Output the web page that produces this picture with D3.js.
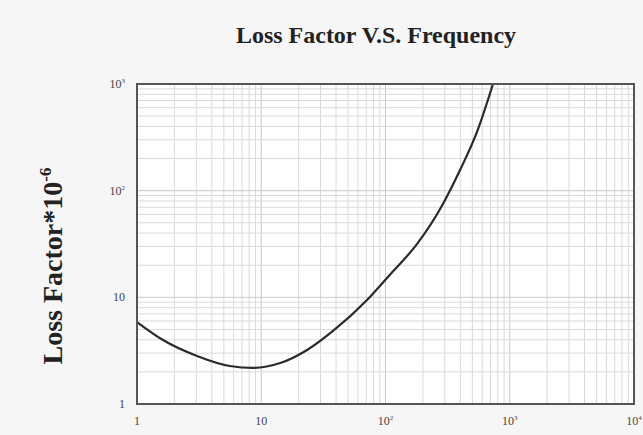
<!DOCTYPE html>
<html><head><meta charset="utf-8">
<script src="https://cdn.jsdelivr.net/npm/d3@7"></script>
<style>html,body{margin:0;padding:0;background:#f6f6f6;}svg{display:block;}</style>
</head><body>
<svg id="c" width="643" height="435"></svg>
<script>
const title = "Loss Factor V.S. Frequency";
const yTitle = "Loss Factor*10";
const yTitleSup = "-6";
const freq = [1, 1.62, 3.04, 5.6, 8.6, 14.2, 23.4, 37.8, 71, 109, 179, 290, 398, 545, 733];
const loss = [5.87, 3.98, 2.82, 2.27, 2.18, 2.42, 3.21, 4.84, 9.44, 16.4, 31.5, 75, 156, 355, 1000];
const xTicks = [1, 10, 100, 1000, 10000];
const xTickBase = ["1", "10", "10", "10", "10"];
const xTickSup = ["", "", "2", "3", "4"];
const yTicks = [1, 10, 100, 1000];
const yTickBase = ["1", "10", "10", "10"];
const yTickSup = ["", "", "2", "3"];

const svg = d3.select("#c");
const L = 137, R = 634, T = 84, B = 404;
const x = d3.scaleLog().domain([1, 10000]).range([L, R]);
const y = d3.scaleLog().domain([1, 1000]).range([B, T]);

svg.append("rect").attr("x", L).attr("y", T).attr("width", R - L).attr("height", B - T).attr("fill", "#fff");

// gridlines
const xg = [], yg = [];
for (let d = 1; d < 10000; d *= 10) for (let k = 1; k <= 9; k++) xg.push(d * k);
for (let d = 1; d < 1000; d *= 10) for (let k = 1; k <= 9; k++) yg.push(d * k);
const grid = svg.append("g");
grid.selectAll("line.xg").data(xg).join("line").attr("class", "xg")
  .attr("x1", d => x(d)).attr("x2", d => x(d)).attr("y1", T).attr("y2", B)
  .attr("stroke", d => Math.log10(d) % 1 === 0 ? "#c8c8c8" : "#d9d9d9").attr("stroke-width", 1);
grid.selectAll("line.yg").data(yg).join("line").attr("class", "yg")
  .attr("y1", d => y(d)).attr("y2", d => y(d)).attr("x1", L).attr("x2", R)
  .attr("stroke", d => Math.log10(d) % 1 === 0 ? "#c8c8c8" : "#d9d9d9").attr("stroke-width", 1);

// curve
svg.append("clipPath").attr("id", "cp").append("rect").attr("x", L).attr("y", T).attr("width", R - L).attr("height", B - T);
const pts = freq.map((f, i) => [f, loss[i]]);
const line = d3.line().x(d => x(d[0])).y(d => y(d[1])).curve(d3.curveMonotoneX);
svg.append("path").attr("clip-path", "url(#cp)").attr("d", line(pts))
  .attr("fill", "none").attr("stroke", "#2a2a2a").attr("stroke-width", 2.2);

// frame
svg.append("rect").attr("x", L).attr("y", T).attr("width", R - L).attr("height", B - T)
  .attr("fill", "none").attr("stroke", "#555").attr("stroke-width", 2);

// tick labels
const tf = "Liberation Serif, Times New Roman, serif";
const xl = svg.append("g").attr("font-family", tf).attr("font-size", 12).attr("fill", "#444").attr("text-anchor", "middle");
xTicks.forEach((t, i) => {
  const tx = xl.append("text").attr("x", x(t)).attr("y", 425);
  tx.append("tspan").text(xTickBase[i]);
  if (xTickSup[i]) tx.append("tspan").attr("dy", -5).attr("font-size", 7).text(xTickSup[i]);
});
const yl = svg.append("g").attr("font-family", tf).attr("font-size", 12).attr("fill", "#444").attr("text-anchor", "end");
yTicks.forEach((t, i) => {
  const tx = yl.append("text").attr("x", 125).attr("y", y(t) + 4);
  tx.append("tspan").text(yTickBase[i]);
  if (yTickSup[i]) tx.append("tspan").attr("dy", -5).attr("font-size", 7).text(yTickSup[i]);
});

// titles
svg.append("text").attr("x", 376).attr("y", 43).attr("text-anchor", "middle")
  .attr("font-family", tf).attr("font-weight", "bold").attr("font-size", 24).attr("fill", "#222").text(title);
const yt = svg.append("text").attr("transform", "translate(62,266) rotate(-90)").attr("text-anchor", "middle")
  .attr("font-family", tf).attr("font-weight", "bold").attr("font-size", 28).attr("fill", "#222");
yt.append("tspan").text(yTitle);
yt.append("tspan").attr("dy", -11).attr("font-size", 17).text(yTitleSup);
</script>
</body></html>
